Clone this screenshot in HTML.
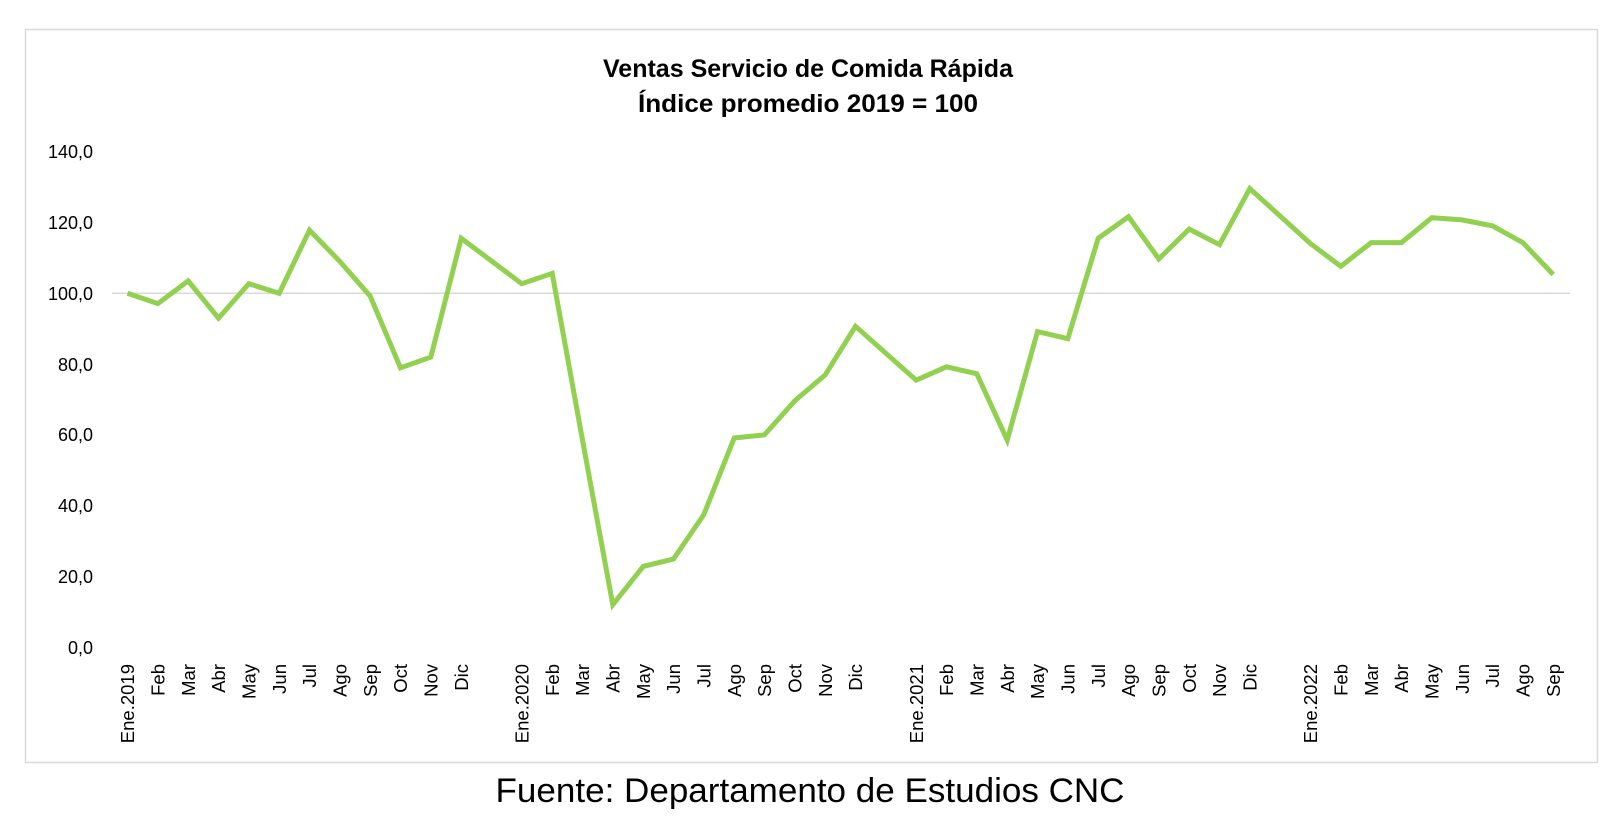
<!DOCTYPE html>
<html><head><meta charset="utf-8"><style>
html,body{margin:0;padding:0;background:#fff;}
svg{display:block;}
</style></head><body>
<svg width="1622" height="836" viewBox="0 0 1622 836" xmlns="http://www.w3.org/2000/svg" font-family="Liberation Sans, sans-serif">
<rect x="0" y="0" width="1622" height="836" fill="#fff"/>
<rect x="25.5" y="29.5" width="1572" height="733" fill="#fff" stroke="#d9d9d9" stroke-width="1.5"/>
<text x="808" y="77" text-anchor="middle" font-weight="bold" font-size="25" textLength="410" lengthAdjust="spacingAndGlyphs">Ventas Servicio de Comida Rápida</text>
<text x="808" y="112" text-anchor="middle" font-weight="bold" font-size="25" textLength="340" lengthAdjust="spacingAndGlyphs">Índice promedio 2019 = 100</text>
<line x1="112" y1="293.3" x2="1570" y2="293.3" stroke="#d9d9d9" stroke-width="1.5"/>
<g font-size="18" text-anchor="end" fill="#000">
<text x="93" y="158">140,0</text>
<text x="93" y="229">120,0</text>
<text x="93" y="300">100,0</text>
<text x="93" y="371">80,0</text>
<text x="93" y="441">60,0</text>
<text x="93" y="512">40,0</text>
<text x="93" y="583">20,0</text>
<text x="93" y="654">0,0</text>
</g>
<g font-size="18.5" text-anchor="end" fill="#000">
<text transform="translate(134,664) rotate(-90)">Ene.2019</text>
<text transform="translate(164.5,664) rotate(-90)">Feb</text>
<text transform="translate(194.9,664) rotate(-90)">Mar</text>
<text transform="translate(225.2,664) rotate(-90)">Abr</text>
<text transform="translate(255.5,664) rotate(-90)">May</text>
<text transform="translate(285.9,664) rotate(-90)">Jun</text>
<text transform="translate(316.2,664) rotate(-90)">Jul</text>
<text transform="translate(346.5,664) rotate(-90)">Ago</text>
<text transform="translate(376.9,664) rotate(-90)">Sep</text>
<text transform="translate(407.2,664) rotate(-90)">Oct</text>
<text transform="translate(437.5,664) rotate(-90)">Nov</text>
<text transform="translate(467.8,664) rotate(-90)">Dic</text>
<text transform="translate(528.5,664) rotate(-90)">Ene.2020</text>
<text transform="translate(558.8,664) rotate(-90)">Feb</text>
<text transform="translate(589.2,664) rotate(-90)">Mar</text>
<text transform="translate(619.5,664) rotate(-90)">Abr</text>
<text transform="translate(649.8,664) rotate(-90)">May</text>
<text transform="translate(680.2,664) rotate(-90)">Jun</text>
<text transform="translate(710.5,664) rotate(-90)">Jul</text>
<text transform="translate(740.8,664) rotate(-90)">Ago</text>
<text transform="translate(771.2,664) rotate(-90)">Sep</text>
<text transform="translate(801.5,664) rotate(-90)">Oct</text>
<text transform="translate(831.8,664) rotate(-90)">Nov</text>
<text transform="translate(862.2,664) rotate(-90)">Dic</text>
<text transform="translate(922.8,664) rotate(-90)">Ene.2021</text>
<text transform="translate(953.2,664) rotate(-90)">Feb</text>
<text transform="translate(983.5,664) rotate(-90)">Mar</text>
<text transform="translate(1013.8,664) rotate(-90)">Abr</text>
<text transform="translate(1044.2,664) rotate(-90)">May</text>
<text transform="translate(1074.5,664) rotate(-90)">Jun</text>
<text transform="translate(1104.8,664) rotate(-90)">Jul</text>
<text transform="translate(1135.2,664) rotate(-90)">Ago</text>
<text transform="translate(1165.5,664) rotate(-90)">Sep</text>
<text transform="translate(1195.8,664) rotate(-90)">Oct</text>
<text transform="translate(1226.2,664) rotate(-90)">Nov</text>
<text transform="translate(1256.5,664) rotate(-90)">Dic</text>
<text transform="translate(1317.2,664) rotate(-90)">Ene.2022</text>
<text transform="translate(1347.5,664) rotate(-90)">Feb</text>
<text transform="translate(1377.8,664) rotate(-90)">Mar</text>
<text transform="translate(1408.2,664) rotate(-90)">Abr</text>
<text transform="translate(1438.5,664) rotate(-90)">May</text>
<text transform="translate(1468.8,664) rotate(-90)">Jun</text>
<text transform="translate(1499.2,664) rotate(-90)">Jul</text>
<text transform="translate(1529.5,664) rotate(-90)">Ago</text>
<text transform="translate(1559.8,664) rotate(-90)">Sep</text>
</g>
<polyline fill="none" stroke="#92D050" stroke-width="5" stroke-linejoin="miter" points="
127.5,293.3 157.8,303.6 188.2,280.9 218.5,318.1 248.8,283.7 279.2,293.3 309.5,230.2 339.8,261.4 370.2,296.1 400.5,367.8 430.8,357.1 461.2,238.3
521.8,283.7 552.2,273.4 582.5,440.1 612.8,604.7 643.2,566.4 673.5,559.0 703.8,514.6 734.2,438.0 764.5,434.8 794.8,400.8 825.2,374.9 855.5,326.3
916.2,380.2 946.5,366.8 976.8,373.8 1007.2,440.1 1037.5,331.6 1067.8,338.7 1098.2,238.3 1128.5,216.7 1158.8,258.9 1189.2,229.1 1219.5,244.7 1249.8,188.6
1310.5,243.6 1340.8,266.3 1371.2,242.6 1401.5,242.6 1431.8,217.7 1462.2,219.9 1492.5,225.9 1522.8,242.6 1553.2,274.5"/>
<text x="810" y="802" text-anchor="middle" font-size="34" textLength="629" lengthAdjust="spacingAndGlyphs">Fuente: Departamento de Estudios CNC</text>
</svg>
</body></html>
